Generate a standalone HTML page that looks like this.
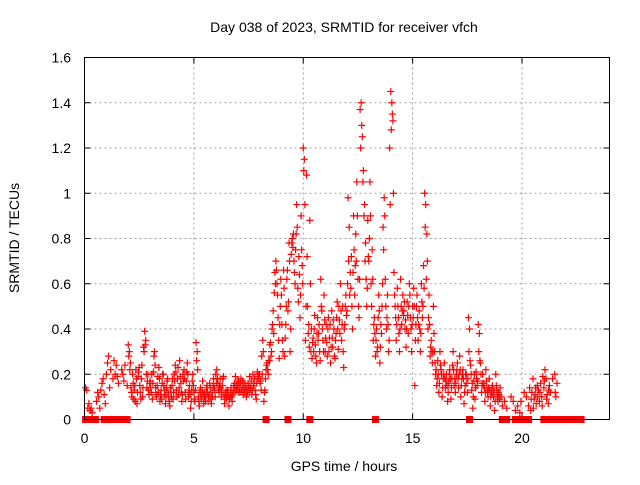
<!DOCTYPE html>
<html><head><meta charset="utf-8"><style>
body{margin:0;background:#fff;}
svg text{font-family:"Liberation Sans",sans-serif;font-size:14px;fill:#000;}
</style></head><body>
<svg id="chart" width="640" height="480" xmlns="http://www.w3.org/2000/svg">
<text x="344" y="32" text-anchor="middle">Day 038 of 2023, SRMTID for receiver vfch</text>
<text transform="translate(19,238) rotate(-90)" text-anchor="middle">SRMTID / TECUs</text>
<text x="344" y="471" text-anchor="middle">GPS time / hours</text>
<g id="grid"></g>
<g id="ticks"></g>
<g id="marks"></g>
<rect x="84.5" y="57.5" width="525" height="362" fill="none" stroke="#000" stroke-width="1"/>
</svg>
<script>
const xTicks=[0,5,10,15,20];
const yTicks=[0,0.2,0.4,0.6,0.8,1,1.2,1.4,1.6];
const yTickLabels=["0","0.2","0.4","0.6","0.8","1","1.2","1.4","1.6"];
// irregular points
const hoursA=[0.05,0.1,0.15,0.2,0.25,0.3,0.35,0.55,0.6,0.65,0.7,0.75,0.8,0.85,0.9,0.95,1.0,1.05,1.1,1.15,1.2,1.3,1.35,1.4,1.45,1.5,1.55,1.7,1.75,1.8,1.85,1.95,
19.0,19.05,19.1,19.2,19.3,19.5,19.6,19.7,19.8,19.9,19.95,20.1,20.2,20.3,20.35,20.4,20.45,20.5,20.55,20.6,20.65,20.7,20.75,20.8,20.85,20.9,20.95,21.0,21.05,21.1,21.15,21.2,21.25,21.3,21.4,21.5,21.55,21.6,
20.42,20.52,20.62,20.72,20.82,20.92,21.02,21.12,21.22,21.52];
const valuesA=[0.14,0.13,0.05,0.07,0.04,0.05,0.03,0.08,0.12,0.1,0.05,0.13,0.16,0.18,0.11,0.07,0.2,0.25,0.28,0.14,0.22,0.18,0.26,0.2,0.24,0.19,0.16,0.22,0.2,0.17,0.24,0.15,
0.14,0.1,0.06,0.08,0.05,0.1,0.08,0.04,0.06,0.03,0.08,0.12,0.1,0.06,0.14,0.04,0.12,0.18,0.09,0.11,0.07,0.15,0.13,0.08,0.16,0.1,0.19,0.14,0.22,0.18,0.11,0.07,0.15,0.12,0.18,0.2,0.1,0.16,
0.09,0.05,0.14,0.1,0.12,0.06,0.17,0.09,0.13,0.12];
// hourly blocks sampled every 0.05 h starting at segStart
const segStart=[2,3,4,5,6,7,8,9,10,11,12,13,14,15,16,17,18];
const seg2=[0.33,0.3,0.25,0.12,0.2,0.09,0.15,0.22,0.07,0.19,0.23,0.12,0.18,0.1,0.32,0.39,0.35,0.14,0.2,0.11];
const seg3=[0.17,0.12,0.09,0.21,0.3,0.14,0.1,0.19,0.23,0.08,0.13,0.16,0.2,0.11,0.07,0.14,0.18,0.1,0.06,0.12];
const seg4=[0.15,0.09,0.2,0.24,0.13,0.18,0.11,0.26,0.16,0.08,0.2,0.22,0.12,0.17,0.25,0.1,0.15,0.05,0.13,0.2];
const seg5=[0.12,0.08,0.34,0.3,0.1,0.06,0.14,0.09,0.17,0.07,0.12,0.1,0.15,0.08,0.11,0.14,0.07,0.1,0.18,0.13];
const seg6=[0.2,0.22,0.16,0.12,0.18,0.1,0.15,0.19,0.07,0.11,0.09,0.13,0.06,0.1,0.14,0.08,0.12,0.16,0.19,0.13];
const seg7=[0.15,0.17,0.12,0.18,0.14,0.11,0.16,0.13,0.1,0.12,0.15,0.19,0.14,0.11,0.2,0.16,0.13,0.09,0.21,0.18];
const seg8=[0.2,0.17,0.28,0.35,0.08,0.13,0.22,0.25,0.2,0.26,0.34,0.3,0.42,0.38,0.65,0.7,0.6,0.45,0.27,0.5];
const seg9=[0.55,0.35,0.66,0.28,0.42,0.62,0.48,0.78,0.3,0.73,0.8,0.82,0.65,0.75,0.95,0.58,0.72,0.45,0.9,0.68];
const seg10=[1.2,1.15,0.35,1.08,0.5,0.42,0.88,0.3,0.27,0.36,0.4,0.33,0.25,0.45,0.38,0.3,0.62,0.48,0.35,0.55];
const seg11=[0.3,0.42,0.28,0.45,0.36,0.25,0.48,0.32,0.4,0.27,0.38,0.52,0.31,0.44,0.6,0.35,0.5,0.23,0.42,0.55];
const seg12=[0.48,0.98,0.85,0.65,0.72,0.4,0.9,0.55,0.82,1.05,0.62,0.45,1.37,1.4,1.25,1.1,0.95,0.78,0.5,0.88];
const seg13=[0.7,1.05,0.6,0.75,0.35,0.45,0.28,0.4,0.32,0.55,0.25,0.42,0.5,0.85,0.98,0.62,0.4,0.55,0.3,1.2];
const seg14=[1.45,1.4,1.32,0.65,0.5,0.35,0.58,0.45,0.3,0.62,0.42,0.55,0.48,0.4,0.32,0.52,0.38,0.6,0.45,0.3];
const seg15=[0.5,0.58,0.15,0.42,0.55,0.35,0.48,0.3,0.6,0.45,0.68,1.0,0.95,0.82,0.4,0.55,0.28,0.35,0.25,0.5];
const seg16=[0.3,0.2,0.15,0.26,0.12,0.3,0.22,0.1,0.18,0.25,0.14,0.2,0.08,0.16,0.22,0.09,0.18,0.3,0.15,0.12];
const seg17=[0.2,0.25,0.14,0.28,0.1,0.18,0.22,0.07,0.15,0.2,0.12,0.45,0.4,0.24,0.13,0.05,0.17,0.09,0.21,0.15];
const seg18=[0.42,0.38,0.25,0.12,0.2,0.16,0.08,0.22,0.14,0.1,0.18,0.06,0.12,0.15,0.1,0.04,0.2,0.13,0.08,0.11];
const segValues=[seg2,seg3,seg4,seg5,seg6,seg7,seg8,seg9,seg10,seg11,seg12,seg13,seg14,seg15,seg16,seg17,seg18];
// second pass of samples, offset by 0.025 h
const segB2=[0.28,0.22,0.14,0.1,0.16,0.13,0.08,0.18,0.12,0.21,0.15,0.09,0.24,0.14,0.3,0.33,0.2,0.17,0.13,0.16];
const segB3=[0.14,0.2,0.16,0.28,0.24,0.11,0.15,0.12,0.18,0.11,0.09,0.2,0.15,0.13,0.1,0.17,0.12,0.08,0.14,0.1];
const segB4=[0.18,0.12,0.17,0.21,0.1,0.23,0.14,0.19,0.12,0.11,0.17,0.18,0.09,0.21,0.2,0.13,0.11,0.08,0.17,0.15];
const segB5=[0.09,0.13,0.26,0.22,0.08,0.12,0.1,0.13,0.11,0.1,0.08,0.14,0.12,0.1,0.16,0.09,0.12,0.15,0.14,0.1];
const segB6=[0.16,0.18,0.13,0.15,0.14,0.12,0.18,0.11,0.09,0.13,0.12,0.1,0.09,0.12,0.1,0.11,0.15,0.13,0.15,0.17];
const segB7=[0.12,0.14,0.16,0.13,0.17,0.14,0.12,0.15,0.13,0.16,0.12,0.14,0.17,0.13,0.15,0.18,0.11,0.16,0.19,0.2];
const segB8=[0.16,0.13,0.2,0.3,0.12,0.18,0.24,0.22,0.26,0.33,0.28,0.4,0.48,0.56,0.6,0.66,0.55,0.35,0.42,0.62];
const segB9=[0.42,0.3,0.58,0.36,0.5,0.66,0.52,0.7,0.4,0.78,0.76,0.7,0.6,0.82,0.85,0.52,0.64,0.55,0.75,0.6];
const segB10=[1.1,0.95,0.5,0.72,0.38,0.32,0.6,0.4,0.34,0.3,0.46,0.28,0.38,0.35,0.42,0.26,0.5,0.4,0.3,0.44];
const segB11=[0.36,0.34,0.4,0.3,0.42,0.32,0.36,0.44,0.28,0.35,0.45,0.4,0.5,0.38,0.48,0.42,0.3,0.4,0.5,0.46];
const segB12=[0.6,0.7,0.55,0.58,0.5,0.65,0.75,0.68,0.7,0.9,0.5,0.62,1.2,1.3,1.05,0.9,0.7,0.62,0.58,0.72];
const segB13=[0.8,0.9,0.5,0.62,0.42,0.38,0.35,0.3,0.45,0.48,0.32,0.38,0.6,0.75,0.9,0.5,0.45,0.42,0.35,0.95];
const segB14=[1.28,1.35,1.0,0.55,0.45,0.42,0.5,0.38,0.4,0.5,0.48,0.46,0.52,0.44,0.4,0.46,0.5,0.55,0.4,0.42];
const segB15=[0.45,0.5,0.35,0.5,0.45,0.42,0.4,0.38,0.52,0.5,0.58,0.85,0.62,0.7,0.45,0.42,0.32,0.3,0.3,0.38];
const segB16=[0.25,0.22,0.18,0.2,0.16,0.24,0.2,0.14,0.2,0.18,0.17,0.15,0.12,0.2,0.18,0.14,0.24,0.22,0.18,0.16];
const segB17=[0.22,0.18,0.2,0.22,0.15,0.2,0.18,0.12,0.2,0.16,0.18,0.3,0.26,0.2,0.16,0.1,0.2,0.14,0.18,0.17];
const segB18=[0.3,0.26,0.2,0.16,0.15,0.14,0.12,0.17,0.12,0.14,0.13,0.1,0.14,0.11,0.13,0.08,0.15,0.1,0.12,0.09];
const segBValues=[segB2,segB3,segB4,segB5,segB6,segB7,segB8,segB9,segB10,segB11,segB12,segB13,segB14,segB15,segB16,segB17,segB18];
// zero-value samples
const zeroHours=[0.05,0.2,0.4,0.5,0.9,1.0,1.1,1.4,1.5,1.6,1.7,1.8,1.95,8.3,9.3,10.3,13.3,17.6,19.1,19.2,19.3,19.7,19.8,20.0,20.1,20.3,21.0,21.1,21.2,21.4,21.5,21.6,21.7,21.8,22.0,22.1,22.2,22.3,22.4,22.6,22.7];

const L=84.5,R=609.5,T=57.5,B=419.5;
const xs=h=>L+(h/24)*(R-L);
const ys=v=>B-(v/1.6)*(B-T);
const NS='http://www.w3.org/2000/svg';
const grid=document.getElementById('grid'),ticks=document.getElementById('ticks'),marks=document.getElementById('marks');
function mk(tag,attrs,parent){const e=document.createElementNS(NS,tag);for(const k in attrs)e.setAttribute(k,attrs[k]);parent.appendChild(e);return e;}
xTicks.forEach(t=>{
  const x=xs(t);
  if(t>0){const g=mk('line',{x1:x,x2:x,y1:T,y2:B,stroke:'#a0a0a0','stroke-dasharray':'2,3'},grid);
  
  }
  mk('line',{x1:x,x2:x,y1:B,y2:B-6,stroke:'#000'},ticks);
  mk('line',{x1:x,x2:x,y1:T,y2:T+6,stroke:'#000'},ticks);
  const tx=mk('text',{x:x,y:443,'text-anchor':'middle'},ticks);tx.textContent=t;
  
  
});
yTicks.forEach((t,i)=>{
  const y=ys(t);
  if(t>0&&t<1.6){const g=mk('line',{x1:L,x2:R,y1:y,y2:y,stroke:'#a0a0a0','stroke-dasharray':'2,3'},grid);
  
  }
  mk('line',{x1:L,x2:L+6,y1:y,y2:y,stroke:'#000'},ticks);
  mk('line',{x1:R,x2:R-6,y1:y,y2:y,stroke:'#000'},ticks);
  const tx=mk('text',{x:71,y:y+5,'text-anchor':'end'},ticks);tx.textContent=yTickLabels[i];
  
  
});
function cross(h,v){
  const x=xs(h),y=ys(v);
  const p=mk('path',{d:`M${x-3.5} ${y}H${x+3.5}M${x} ${y-3.5}V${y+3.5}`,stroke:'#ff0000','stroke-width':1.2,fill:'none'},marks);
  
  
}
hoursA.forEach((h,i)=>cross(h,valuesA[i]));
segValues.forEach((arr,s)=>arr.forEach((v,i)=>cross(segStart[s]+i*0.05,v)));
segBValues.forEach((arr,s)=>arr.forEach((v,i)=>cross(segStart[s]+0.025+i*0.05,v)));
zeroHours.forEach(h=>{
  const x=xs(h);
  const r=mk('rect',{x:x-3.5,y:B-3.5,width:7,height:7,fill:'#ff0000'},marks);
  
  
});
</script>
</body></html>
